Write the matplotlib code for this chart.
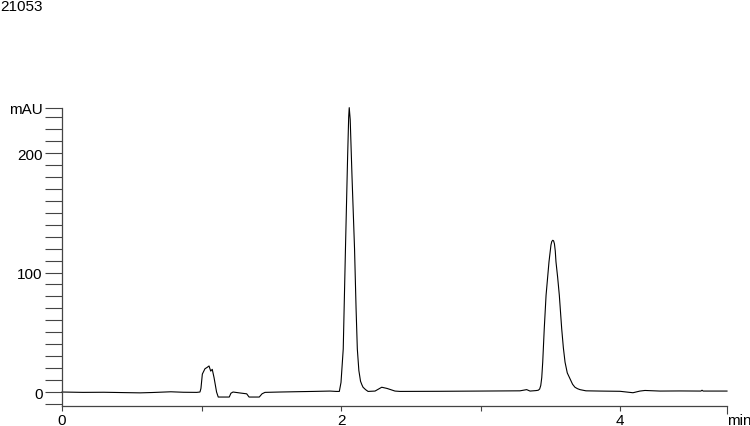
import matplotlib
matplotlib.use("Agg")
import matplotlib.pyplot as plt
from matplotlib.ticker import MultipleLocator

#### Data
title = "21053"
x_label = "min"
y_label = "mAU"

time_min = [0.000, 0.150, 0.300, 0.450, 0.560, 0.650, 0.780, 0.870, 0.966, 0.989,
            0.996, 1.006, 1.025, 1.039, 1.054, 1.066, 1.077, 1.090, 1.108, 1.120,
            1.199, 1.211, 1.226, 1.276, 1.324, 1.341, 1.414, 1.434, 1.455, 1.563,
            1.700, 1.800, 1.921, 1.965, 1.988, 2.000, 2.016, 2.032, 2.047, 2.055,
            2.059, 2.066, 2.079, 2.097, 2.108, 2.117, 2.128, 2.140, 2.150, 2.158,
            2.176, 2.194, 2.244, 2.292, 2.330, 2.387, 2.423, 2.700, 3.000, 3.283,
            3.331, 3.355, 3.398, 3.414, 3.424, 3.432, 3.439, 3.446, 3.457, 3.470,
            3.491, 3.505, 3.511, 3.518, 3.524, 3.530, 3.536, 3.541, 3.553, 3.565,
            3.582, 3.594, 3.606, 3.622, 3.642, 3.660, 3.677, 3.695, 3.713, 3.756,
            3.857, 4.000, 4.093, 4.143, 4.179, 4.287, 4.430, 4.580, 4.588, 4.596,
            4.767]

mau = [0.0, -0.3, -0.2, -0.5, -0.7, -0.4, 0.2, -0.2, -0.3, 0.0,
       3.0, 15.0, 19.5, 20.5, 21.8, 17.5, 19.0, 12.0, 0.0, -4.2,
       -4.2, -1.0, 0.0, -0.8, -1.5, -4.2, -4.2, -1.5, -0.3, 0.0,
       0.3, 0.5, 0.8, 0.5, 0.5, 8.0, 36.0, 120.0, 195.0, 230.0,
       238.0, 228.0, 180.0, 120.0, 70.0, 36.0, 18.0, 9.0, 6.0, 4.0,
       2.0, 0.5, 0.8, 4.0, 3.0, 0.8, 0.5, 0.6, 0.8, 1.0,
       2.0, 0.8, 1.2, 1.5, 2.5, 5.5, 12.0, 25.0, 53.0, 81.0,
       109.0, 123.0, 126.0, 127.0, 126.5, 124.0, 118.0, 109.0, 96.0, 81.0,
       53.0, 37.0, 25.0, 16.0, 11.0, 6.5, 4.0, 2.8, 2.0, 1.0,
       0.8, 0.6, -0.6, 0.8, 1.3, 0.8, 0.9, 0.8, 1.5, 0.8,
       0.8]

x_major = [0, 2, 4]
y_major = [0, 100, 200]
x_end = 4.767
y_range = (-11.7, 237.7)

#### Plot
plt.rcParams['font.family'] = ['Liberation Sans', 'DejaVu Sans']
axcol = "#444444"

fig = plt.figure(figsize=(7.5, 4.27), dpi=100)
ax = fig.add_axes([62/750, 20/427, 665/750, 298/427])

ax.plot(time_min, mau, color="black", lw=0.8, clip_on=False)

ax.set_xlim(0, x_end)
ax.set_ylim(*y_range)

# Axis frame: only left + bottom
for s in ["top", "right"]:
    ax.spines[s].set_visible(False)
for s in ["left", "bottom"]:
    ax.spines[s].set_color(axcol)
    ax.spines[s].set_linewidth(0.9)

# x ticks, with the unit label sitting on an end tick
ax.set_xticks(x_major + [x_end])
ax.set_xticklabels([str(v) for v in x_major] + [x_label])
ax.xaxis.set_minor_locator(MultipleLocator(1))
ax.tick_params(axis="x", which="both", direction="out", length=3.6, width=0.8,
               color=axcol, labelsize=11, pad=1.5)
end_tick = ax.xaxis.get_major_ticks()[-1]
end_tick.tick1line.set_markersize(6)
end_tick.label1.set_horizontalalignment("left")

# y ticks, unit label on the top tick
ax.set_yticks(y_major + [y_range[1]])
ax.set_yticklabels([str(v) for v in y_major] + [y_label])
ax.yaxis.set_minor_locator(MultipleLocator(10))
ax.tick_params(axis="y", which="both", direction="out", length=12, width=0.8,
               color=axcol, labelsize=11, pad=2)

fig.text(0.0, 1 - 7/427, title, fontsize=11, ha="left", va="center")

fig.savefig("out.png", dpi=100, facecolor="white")
